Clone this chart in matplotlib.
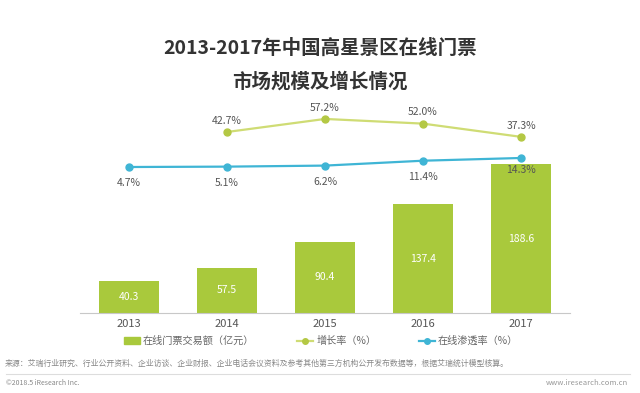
import matplotlib.pyplot as plt
from matplotlib.lines import Line2D
from matplotlib.patches import Patch

plt.rcParams['font.family'] = ['Noto Sans CJK SC', 'DejaVu Sans']

years = ['2013', '2014', '2015', '2016', '2017']
volume = [40.3, 57.5, 90.4, 137.4, 188.6]          # 在线门票交易额（亿元）
growth_years = ['2014', '2015', '2016', '2017']
growth = [42.7, 57.2, 52.0, 37.3]                  # 增长率（%）
penetration = [4.7, 5.1, 6.2, 11.4, 14.3]          # 在线渗透率（%）

bar_color = '#a9c93c'
growth_line = '#cfdc74'
growth_marker = '#b4c844'
pen_color = '#3fb5d5'

fig = plt.figure(figsize=(6.4, 3.93), dpi=100)
W, H = 640, 393
left, right, bottom, top = 80, 570, 313, 95
ax = fig.add_axes([left / W, (H - bottom) / H, (right - left) / W, (bottom - top) / H])

x = list(range(len(years)))
ax.bar(x, volume, width=0.62, color=bar_color, zorder=2)
ax.set_ylim(0, 276)
ax.set_xlim(-0.5, len(years) - 0.5)
for xi, v in zip(x, volume):
    ax.text(xi, v / 2, f'{v:.1f}', ha='center', va='center', color='white', fontsize=7.5)

ax.set_xticks(x)
ax.set_xticklabels(years, fontsize=8, color='#555555')
ax.tick_params(axis='x', length=0, pad=4)
ax.set_yticks([])
for s in ['top', 'right', 'left']:
    ax.spines[s].set_visible(False)
ax.spines['bottom'].set_color('#c8c8c8')

# growth rate on its own hidden scale
ax_g = ax.twinx()
gx = [years.index(y) for y in growth_years]
ax_g.plot(gx, growth, color=growth_line, lw=1.6, marker='o', ms=5,
          mfc=growth_marker, mec=growth_marker, zorder=3)
ax_g.set_ylim(-158.4, 83.8)
for xi, v in zip(gx, growth):
    ax_g.text(xi, v + 7, f'{v:.1f}%', ha='center', va='bottom', fontsize=7.5, color='#555555')
ax_g.axis('off')

# penetration rate on its own hidden scale
ax_p = ax.twinx()
ax_p.plot(x, penetration, color=pen_color, lw=1.6, marker='o', ms=5,
          mfc=pen_color, mec=pen_color, zorder=3)
ax_p.set_ylim(-150.6, 81.3)
for xi, v in zip(x, penetration):
    dy = -7 if xi == len(x) - 1 else -12
    ax_p.text(xi, v + dy, f'{v:.1f}%', ha='center', va='top', fontsize=7.5, color='#555555')
ax_p.axis('off')

fig.text(0.5, 1 - 48 / H, '2013-2017年中国高星景区在线门票', ha='center', va='center',
         fontsize=14, fontweight='bold', color='#333333')
fig.text(0.5, 1 - 82 / H, '市场规模及增长情况', ha='center', va='center',
         fontsize=14, fontweight='bold', color='#333333')

handles = [
    Patch(color=bar_color, label='在线门票交易额（亿元）'),
    Line2D([], [], color=growth_line, lw=1.6, marker='o', ms=4, mfc=growth_marker,
           mec=growth_marker, label='增长率（%）'),
    Line2D([], [], color=pen_color, lw=1.6, marker='o', ms=4, mfc=pen_color,
           mec=pen_color, label='在线渗透率（%）'),
]
fig.legend(handles=handles, loc='center', bbox_to_anchor=(321 / W, 1 - 341 / H), ncol=3,
           frameon=False, fontsize=7.3, labelcolor='#666666', handlelength=1.6,
           handleheight=0.6, handletextpad=0.3, columnspacing=4.2)

fig.text(5 / W, 1 - 363 / H,
         '来源：艾瑞行业研究、行业公开资料、企业访谈、企业财报、企业电话会议资料及参考其他第三方机构公开发布数据等，根据艾瑞统计模型核算。',
         ha='left', va='center', fontsize=5.7, color='#888888')
fig.add_artist(Line2D([6 / W, 630 / W], [1 - 374 / H, 1 - 374 / H], color='#dddddd', lw=0.8))
fig.text(6 / W, 1 - 383 / H, '©2018.5 iResearch Inc.', ha='left', va='center',
         fontsize=5, color='#888888')
fig.text(628 / W, 1 - 383 / H, 'www.iresearch.com.cn', ha='right', va='center',
         fontsize=5.5, color='#999999')

fig.savefig('out.png', dpi=100)
